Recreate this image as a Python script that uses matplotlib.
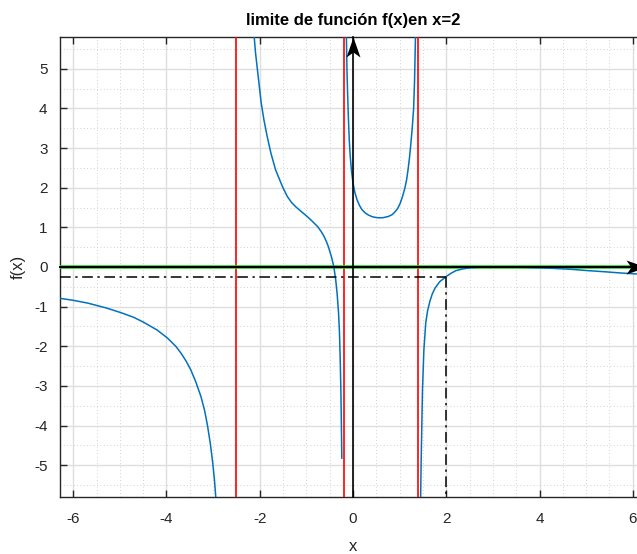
import numpy as np
import matplotlib
matplotlib.use("Agg")
import matplotlib.pyplot as plt
from matplotlib.ticker import MultipleLocator
from matplotlib.path import Path

plt.rcParams['font.family'] = ['Liberation Sans', 'DejaVu Sans']
plt.rcParams['axes.unicode_minus'] = False

# ---- data ----
# branch 1: x < -2.5
b1_x = [-6.2832, -6.0, -5.69, -5.3, -4.98, -4.7, -4.48, -4.2, -3.98, -3.8, -3.69, -3.58,
        -3.48, -3.37, -3.26, -3.18, -3.12, -3.06, -3.01, -2.97, -2.94, -2.92]
b1_y = [-0.79, -0.84, -0.91, -1.03, -1.15, -1.27, -1.40, -1.59, -1.79, -2.0, -2.17, -2.37,
        -2.59, -2.90, -3.27, -3.63, -4.0, -4.45, -4.92, -5.38, -5.85, -6.2]
# branch 2: -2.5 < x < -0.2
b2_x = [-2.16, -2.12, -2.09, -2.05, -2.01, -1.97, -1.91, -1.84, -1.76, -1.66, -1.51, -1.41,
        -1.32, -1.23, -1.10, -0.98, -0.87, -0.76, -0.68, -0.62, -0.57, -0.53, -0.46, -0.41,
        -0.37, -0.34, -0.31, -0.29, -0.275, -0.26, -0.25, -0.24]
b2_y = [6.2, 5.82, 5.40, 4.98, 4.57, 4.15, 3.71, 3.29, 2.87, 2.45, 2.02, 1.78,
        1.63, 1.52, 1.39, 1.27, 1.15, 1.02, 0.89, 0.77, 0.64, 0.52, 0.25, 0.0,
        -0.33, -0.68, -1.15, -1.65, -2.3, -3.1, -3.9, -4.82]
# branch 3: -0.2 < x < 1.4
b3_x = [-0.145, -0.14, -0.13, -0.115, -0.10, -0.08, -0.06, -0.03, 0.0, 0.04, 0.085, 0.14,
        0.19, 0.26, 0.33, 0.42, 0.51, 0.58, 0.65, 0.76, 0.84, 0.90, 0.96, 1.01, 1.06, 1.11,
        1.15, 1.18, 1.21, 1.24, 1.27, 1.30, 1.32, 1.34, 1.345]
b3_y = [6.2, 5.7, 5.0, 4.35, 3.8, 3.2, 2.8, 2.4, 2.12, 1.88, 1.70, 1.55,
        1.45, 1.365, 1.31, 1.265, 1.245, 1.24, 1.245, 1.275, 1.32, 1.39, 1.48, 1.60, 1.77, 1.98,
        2.2, 2.45, 2.74, 3.1, 3.5, 4.0, 4.7, 5.83, 6.2]
# branch 4: x > 1.4
b4_x = [1.445, 1.45, 1.46, 1.47, 1.49, 1.52, 1.56, 1.60, 1.65, 1.70, 1.76, 1.86, 2.0, 2.1,
        2.21, 2.35, 2.50, 2.7, 2.9, 3.2, 3.59, 4.0, 4.31, 4.7, 5.02, 5.4, 5.73, 6.0, 6.2832]
b4_y = [-6.2, -5.88, -5.0, -4.36, -3.10, -2.09, -1.41, -1.10, -0.86, -0.68, -0.53, -0.37, -0.24, -0.16,
        -0.09, -0.05, -0.02, -0.005, 0.0, 0.0, -0.005, -0.02, -0.035, -0.06, -0.09, -0.12, -0.15, -0.17, -0.19]

asymptotes = [-2.5, -0.2, 1.4]
x_point = 2.0
limit_val = -0.24

x_ticks = [-6, -4, -2, 0, 2, 4, 6]
y_ticks = [-5, -4, -3, -2, -1, 0, 1, 2, 3, 4, 5]
xlim = (-2 * np.pi, 2 * np.pi)
ylim = (-5.8, 5.8)

blue = '#0072BD'

fig = plt.figure(figsize=(6.37, 5.54), dpi=100)
ax = fig.add_axes([60 / 637, 1 - 497 / 554, 586 / 637, 460 / 554])

ax.set_xlim(*xlim)
ax.set_ylim(*ylim)

# grid
ax.xaxis.set_minor_locator(MultipleLocator(0.5))
ax.yaxis.set_minor_locator(MultipleLocator(0.5))
ax.grid(which='major', color='#dedede', lw=1.0, ls='-')
ax.grid(which='minor', color='#c4c4c4', lw=0.6, ls=(0, (1, 3)))
ax.set_axisbelow(True)

# curve branches
for bx, by in [(b1_x, b1_y), (b2_x, b2_y), (b3_x, b3_y), (b4_x, b4_y)]:
    ax.plot(bx, by, color=blue, lw=1.1, zorder=4, solid_joinstyle='round')

# asymptotes
for a in asymptotes:
    ax.axvline(a, color='red', lw=1.2, zorder=3)

# green y=0 line
ax.axhline(0, color='#22cc22', lw=2.6, zorder=3)

# arrow head markers (tip at origin)
head_right = Path([(0, 0), (-20, 7), (-15, 0), (-20, -7), (0, 0)],
                  [Path.MOVETO, Path.LINETO, Path.LINETO, Path.LINETO, Path.CLOSEPOLY])
head_up = Path([(0, 0), (-7, -20), (0, -15), (7, -20), (0, 0)],
               [Path.MOVETO, Path.LINETO, Path.LINETO, Path.LINETO, Path.CLOSEPOLY])
ms = 20 * 72 / 100 * 2  # 20 px head length

# x axis line with arrow
ax.plot([xlim[0], xlim[1]], [0, 0], color='black', lw=1.4, zorder=5, clip_on=False)
ax.plot([xlim[1]], [0], marker=head_right, ms=ms, color='black', mew=0, zorder=6, clip_on=False)
# y axis line with arrow
ax.plot([0, 0], [ylim[0], ylim[1]], color='black', lw=1.2, zorder=5, clip_on=False)
ax.plot([0], [ylim[1]], marker=head_up, ms=ms, color='black', mew=0, zorder=6, clip_on=False)

# dash-dot limit guides
ax.plot([xlim[0], x_point], [limit_val, limit_val], color='black', lw=1.1,
        ls=(0, (7, 3, 1.5, 3)), zorder=4)
ax.plot([x_point, x_point], [limit_val, ylim[0]], color='black', lw=1.1,
        ls=(0, (7, 3, 1.5, 3)), zorder=4)

ax.set_xticks(x_ticks)
ax.set_yticks(y_ticks)
ax.set_xticklabels([str(t) for t in x_ticks])
ax.set_yticklabels([str(t) for t in y_ticks])
ax.tick_params(which='major', direction='in', length=5, width=1.0, color='#262626',
               labelsize=11, labelcolor='#262626', top=True, right=True)
ax.tick_params(axis='x', pad=11)
ax.tick_params(axis='y', pad=9)
ax.tick_params(which='minor', length=0, top=True, right=True)
for s in ax.spines.values():
    s.set_color('#262626')
    s.set_linewidth(1.0)

ax.set_title('limite de función f(x)en x=2', fontsize=12, fontweight='bold', pad=9)
ax.set_xlabel('x', fontsize=12, color='#262626', labelpad=9)
ax.set_ylabel('f(x)', fontsize=12, color='#262626', labelpad=6)

fig.savefig('out.png', dpi=100)
